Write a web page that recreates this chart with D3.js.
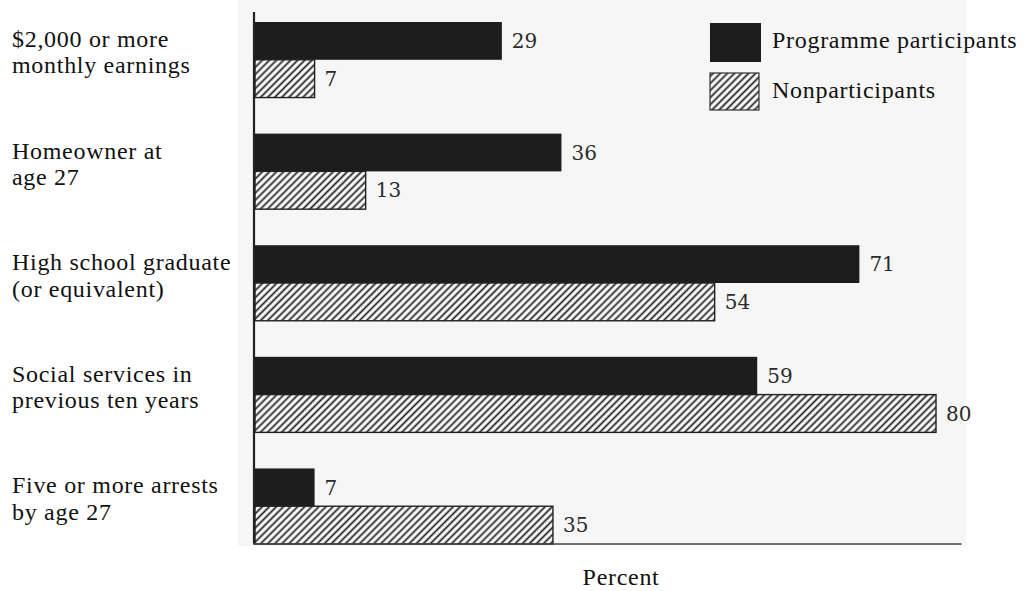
<!DOCTYPE html>
<html>
<head>
<meta charset="utf-8">
<script src="https://cdn.jsdelivr.net/npm/d3@7"></script>
<style>
  body { margin: 0; background: #fff; }
  svg { display: block; }
</style>
</head>
<body>
<svg id="chart" width="1033" height="591"></svg>
<script>
// Outcomes at age 27, percent of each group
const categories = [
  "$2,000 or more\nmonthly earnings",
  "Homeowner at\nage 27",
  "High school graduate\n(or equivalent)",
  "Social services in\nprevious ten years",
  "Five or more arrests\nby age 27"
];
const participants = [29, 36, 71, 59, 7];
const nonparticipants = [7, 13, 54, 80, 35];
const seriesNames = ["Programme participants", "Nonparticipants"];
const axisTitle = "Percent";

const svg = d3.select("#chart");
const ink = "#1d1d1d";
const labelFont = "'Liberation Serif', 'Times New Roman', serif";
const valueFont = "'DejaVu Serif', serif";

// diagonal hatching for the nonparticipant bars
const defs = svg.append("defs");
const pat = defs.append("pattern")
  .attr("id", "hatch")
  .attr("patternUnits", "userSpaceOnUse")
  .attr("width", 5).attr("height", 5)
  .attr("patternTransform", "rotate(45)");
pat.append("rect").attr("width", 5).attr("height", 5).attr("fill", "#fff");
pat.append("line")
  .attr("x1", 2.5).attr("y1", 0).attr("x2", 2.5).attr("y2", 5)
  .attr("stroke", "#222").attr("stroke-width", 1.8);

const x = d3.scaleLinear().domain([0, 80]).range([255, 936]);
const y = d3.scaleBand().domain(categories).range([22, 544])
  .paddingInner(0.323).paddingOuter(0);
const sub = d3.scaleBand().domain(seriesNames).range([0, y.bandwidth()]);

const rows = categories.map((c, i) => ({
  cat: c,
  values: [
    { series: seriesNames[0], v: participants[i] },
    { series: seriesNames[1], v: nonparticipants[i] }
  ]
}));

// faint page tone behind the plot
svg.append("rect")
  .attr("x", 238).attr("y", 0)
  .attr("width", 728).attr("height", 546)
  .attr("fill", "#f6f6f6");

const groups = svg.append("g").selectAll("g")
  .data(rows).join("g")
  .attr("transform", d => `translate(0,${y(d.cat)})`);

groups.selectAll("rect")
  .data(d => d.values).join("rect")
  .attr("x", x(0))
  .attr("y", d => sub(d.series))
  .attr("width", d => x(d.v) - x(0))
  .attr("height", sub.bandwidth())
  .attr("fill", d => d.series === seriesNames[0] ? ink : "url(#hatch)")
  .attr("stroke", d => d.series === seriesNames[0] ? "none" : "#222")
  .attr("stroke-width", 1.4);

groups.selectAll("text.val")
  .data(d => d.values).join("text")
  .attr("class", "val")
  .attr("x", d => x(d.v) + 10)
  .attr("y", d => sub(d.series) + sub.bandwidth() / 2)
  .attr("dy", "0.36em")
  .attr("font-family", valueFont)
  .attr("font-size", 20)
  .attr("fill", "#2b2b2b")
  .text(d => d.v);

// category labels, two lines each
const catText = svg.append("g").selectAll("text")
  .data(categories).join("text")
  .attr("font-family", labelFont)
  .attr("font-size", 24)
  .attr("letter-spacing", 0.7)
  .attr("fill", "#111")
  .attr("y", d => y(d) + y.bandwidth() / 2 - 8);
catText.selectAll("tspan")
  .data(d => d.split("\n")).join("tspan")
  .attr("x", 12)
  .attr("dy", (d, i) => i === 0 ? "-0.2em" : "1.1em")
  .text(d => d);

// axes
const yAxis = svg.append("g").attr("transform", `translate(${x(0) - 1},0)`);
yAxis.append("line")
  .attr("y1", 12).attr("y2", y.range()[1])
  .attr("stroke", "#222").attr("stroke-width", 2.2);
const xAxis = svg.append("g").attr("transform", `translate(0,${y.range()[1]})`);
xAxis.append("line")
  .attr("x1", x(0) - 2).attr("x2", x(83))
  .attr("stroke", "#444").attr("stroke-width", 1.5);

svg.append("text")
  .attr("x", x(43)).attr("y", 585)
  .attr("text-anchor", "middle")
  .attr("font-family", labelFont)
  .attr("font-size", 24)
  .attr("letter-spacing", 0.7)
  .attr("fill", "#111")
  .text(axisTitle);

// legend
const legend = svg.append("g").attr("transform", "translate(710,23)");
const leg = legend.selectAll("g")
  .data(seriesNames).join("g")
  .attr("transform", (d, i) => `translate(0,${i * 50})`);
leg.append("rect")
  .attr("width", d => d === seriesNames[0] ? 51 : 49)
  .attr("height", d => d === seriesNames[0] ? 39 : 37)
  .attr("fill", d => d === seriesNames[0] ? ink : "url(#hatch)")
  .attr("stroke", d => d === seriesNames[0] ? "none" : "#333")
  .attr("stroke-width", 1.2);
leg.append("text")
  .attr("x", 62).attr("y", 17)
  .attr("dy", "0.35em")
  .attr("font-family", labelFont)
  .attr("font-size", 24)
  .attr("letter-spacing", 0.7)
  .attr("fill", "#111")
  .text(d => d);
</script>
</body>
</html>
